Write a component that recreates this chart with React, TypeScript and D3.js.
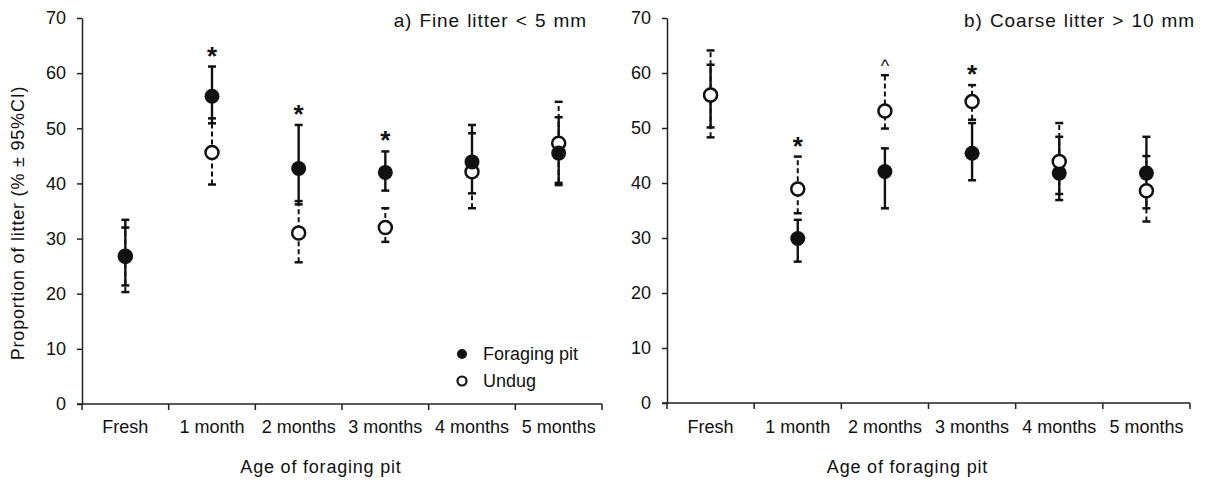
import { useRef, useEffect } from "react";
import * as d3 from "d3";

const categories = ["Fresh", "1 month", "2 months", "3 months", "4 months", "5 months"];
const yTicks = [0, 10, 20, 30, 40, 50, 60, 70];

// a) fine litter
const fineForagingMean = [26.8, 55.8, 42.7, 42.0, 43.9, 45.5];
const fineForagingLow = [21.5, 50.9, 36.2, 38.7, 38.2, 39.7];
const fineForagingHigh = [33.4, 61.2, 50.6, 45.8, 50.6, 52.0];
const fineUndugMean = [26.8, 45.6, 31.0, 32.0, 42.1, 47.3];
const fineUndugLow = [20.3, 39.8, 25.7, 29.4, 35.5, 40.1];
const fineUndugHigh = [32.0, 51.8, 36.8, 35.5, 49.1, 54.8];
const fineMarks = ["", "*", "*", "*", "", ""];

// b) coarse litter
const coarseForagingMean = [56.0, 29.9, 42.1, 45.4, 41.8, 41.8];
const coarseForagingLow = [50.1, 25.7, 35.4, 40.5, 36.9, 35.4];
const coarseForagingHigh = [61.5, 33.3, 46.3, 50.9, 48.4, 48.4];
const coarseUndugMean = [56.0, 38.9, 53.1, 54.8, 43.9, 38.6];
const coarseUndugLow = [48.3, 34.5, 49.9, 51.5, 38.0, 33.0];
const coarseUndugHigh = [64.1, 44.8, 59.6, 57.8, 50.9, 44.9];
const coarseMarks = ["", "*", "^", "*", "", ""];

const FONT = "'Liberation Sans', Arial, sans-serif";

export default function App() {
  const svgRef = useRef(null);

  useEffect(() => {
    const svg = d3.select(svgRef.current);
    svg.selectAll("*").remove();

    const panels = [
      {
        x0: 82, x1: 602, yTop: 18, yBot: 404,
        title: "a) Fine litter < 5 mm", titleX: 587,
        fm: fineForagingMean, fl: fineForagingLow, fh: fineForagingHigh,
        um: fineUndugMean, ul: fineUndugLow, uh: fineUndugHigh,
        marks: fineMarks, undugOnTop: false, legend: true,
      },
      {
        x0: 667, x1: 1190, yTop: 18, yBot: 403,
        title: "b) Coarse litter > 10 mm", titleX: 1195,
        fm: coarseForagingMean, fl: coarseForagingLow, fh: coarseForagingHigh,
        um: coarseUndugMean, ul: coarseUndugLow, uh: coarseUndugHigh,
        marks: coarseMarks, undugOnTop: true, legend: false,
      },
    ];

    panels.forEach((p) => {
      const g = svg.append("g");

      const x = d3.scaleBand().domain(categories).range([p.x0, p.x1]).padding(0);
      const y = d3.scaleLinear().domain([0, 70]).range([p.yBot, p.yTop]);
      const cx = (i) => x(categories[i]) + x.bandwidth() / 2;

      // y axis
      const yAxis = d3.axisLeft(y).tickValues(yTicks).tickSize(5).tickSizeOuter(0).tickPadding(11);
      const ya = g.append("g").attr("transform", `translate(${p.x0},0)`).call(yAxis);
      ya.select(".domain").attr("stroke", "#222").attr("stroke-width", 1.5);
      ya.selectAll(".tick line").attr("stroke", "#222").attr("stroke-width", 1.5);
      ya.selectAll(".tick text").attr("font-family", FONT).attr("font-size", 18).attr("fill", "#111");

      // x axis: ticks at band edges, labels at centers
      const edges = categories.map((c) => x(c)).concat([p.x1]);
      g.append("line")
        .attr("x1", p.x0 - 5).attr("x2", p.x1)
        .attr("y1", p.yBot).attr("y2", p.yBot)
        .attr("stroke", "#222").attr("stroke-width", 1.5);
      g.selectAll(".xtick").data(edges).join("line")
        .attr("x1", (d) => d).attr("x2", (d) => d)
        .attr("y1", p.yBot).attr("y2", p.yBot + 6)
        .attr("stroke", "#222").attr("stroke-width", 1.5);
      g.selectAll(".xlab").data(categories).join("text")
        .attr("x", (d, i) => cx(i)).attr("y", 433)
        .attr("text-anchor", "middle")
        .attr("font-family", FONT).attr("font-size", 18).attr("fill", "#111")
        .text((d) => d);

      g.append("text")
        .attr("x", (p.x0 + p.x1) / 2 - 21).attr("y", 473)
        .attr("text-anchor", "middle")
        .attr("font-family", FONT).attr("font-size", 18).attr("letter-spacing", 0.8)
        .attr("fill", "#111")
        .text("Age of foraging pit");

      g.append("text")
        .attr("x", p.titleX).attr("y", 27)
        .attr("text-anchor", "end")
        .attr("font-family", FONT).attr("font-size", 19)
        .attr("letter-spacing", 0.9).attr("word-spacing", 1)
        .attr("fill", "#111")
        .text(p.title);

      // error bars
      const bars = (lo, hi, dash, w) => {
        const eb = g.append("g").attr("stroke", "#111").attr("stroke-width", w).attr("fill", "none");
        categories.forEach((c, i) => {
          eb.append("line")
            .attr("x1", cx(i)).attr("x2", cx(i))
            .attr("y1", y(lo[i])).attr("y2", y(hi[i]))
            .attr("stroke-dasharray", dash);
          [lo[i], hi[i]].forEach((v) => {
            eb.append("line")
              .attr("x1", cx(i) - 4).attr("x2", cx(i) + 4)
              .attr("y1", y(v)).attr("y2", y(v))
              .attr("stroke-width", 2.5);
          });
        });
      };
      bars(p.ul, p.uh, "5,3", 2);
      bars(p.fl, p.fh, null, 2.4);

      const drawFilled = () =>
        g.append("g").selectAll("circle").data(p.fm).join("circle")
          .attr("cx", (d, i) => cx(i)).attr("cy", (d) => y(d))
          .attr("r", 7.5).attr("fill", "#111");
      const drawOpen = () =>
        g.append("g").selectAll("circle").data(p.um).join("circle")
          .attr("cx", (d, i) => cx(i)).attr("cy", (d) => y(d))
          .attr("r", 6.5).attr("fill", "#fff").attr("stroke", "#111").attr("stroke-width", 2.5);

      if (p.undugOnTop) { drawFilled(); drawOpen(); } else { drawOpen(); drawFilled(); }

      // significance marks
      g.selectAll(".mark").data(p.marks).join("text")
        .attr("x", (d, i) => cx(i))
        .attr("y", (d, i) => y(Math.max(p.fh[i], p.uh[i])) + (d === "^" ? -3 : -2))
        .attr("text-anchor", "middle")
        .attr("font-family", FONT).attr("font-size", (d) => (d === "^" ? 18 : 26))
        .attr("font-weight", (d) => (d === "^" ? "normal" : "bold"))
        .attr("fill", "#111")
        .text((d) => d);

      if (p.legend) {
        const lg = g.append("g").attr("font-family", FONT).attr("font-size", 18).attr("fill", "#111");
        lg.append("circle").attr("cx", 462).attr("cy", 354).attr("r", 5).attr("fill", "#111");
        lg.append("text").attr("x", 483).attr("y", 360).text("Foraging pit");
        lg.append("circle").attr("cx", 462).attr("cy", 381).attr("r", 4.5)
          .attr("fill", "#fff").attr("stroke", "#111").attr("stroke-width", 2.2);
        lg.append("text").attr("x", 483).attr("y", 387).text("Undug");
      }
    });

    // y axis title (left panel only)
    svg.append("text")
      .attr("transform", "translate(24,223) rotate(-90)")
      .attr("text-anchor", "middle")
      .attr("font-family", FONT).attr("font-size", 18).attr("letter-spacing", 0.8)
      .attr("fill", "#111")
      .text("Proportion of litter (% ± 95%CI)");
  }, []);

  return (
    <svg
      ref={svgRef}
      width={1205}
      height={484}
      style={{ position: "absolute", left: 0, top: 0, background: "#fff" }}
    ></svg>
  );
}
